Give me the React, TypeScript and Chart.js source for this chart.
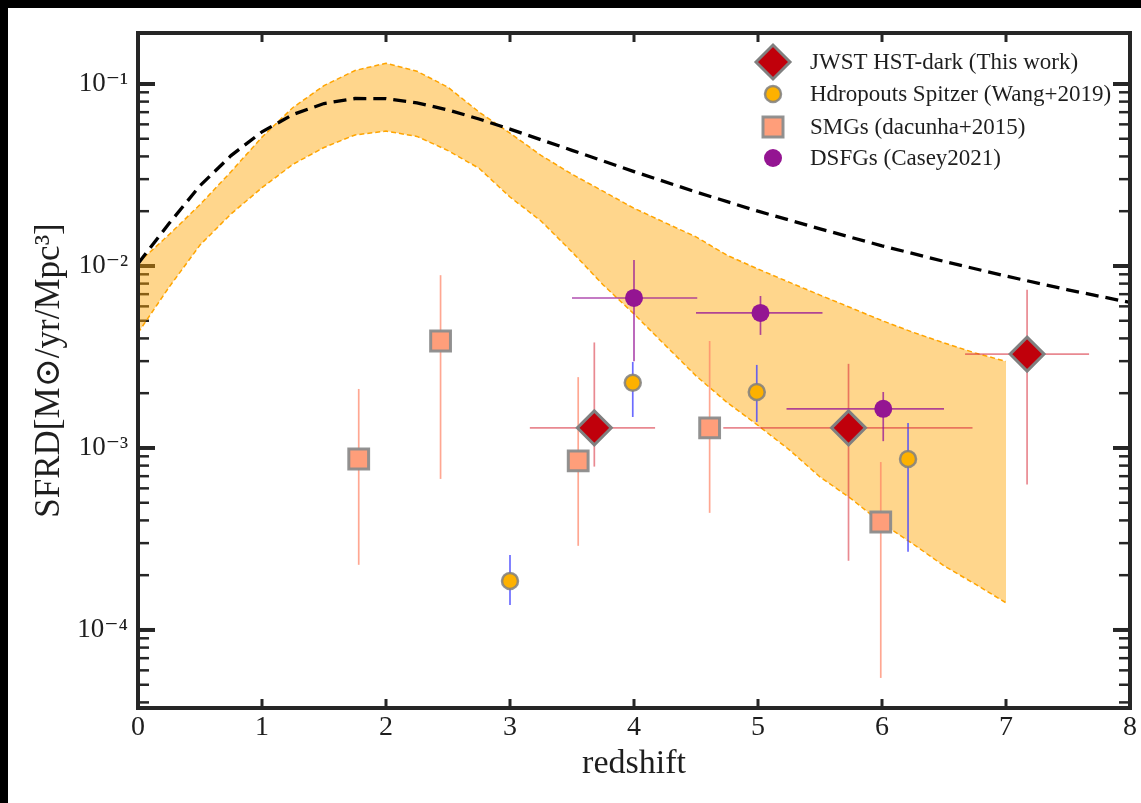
import React, { useEffect, useRef } from 'react';
import { Chart, registerables } from 'chart.js';

Chart.register(...registerables);

// ---------------- data ----------------
const xTickLabels = ['0', '1', '2', '3', '4', '5', '6', '7', '8'];
const yTickValues = [1e-4, 1e-3, 1e-2, 1e-1];
const yTickLabels = ['10⁻⁴', '10⁻³', '10⁻²', '10⁻¹'];

// dashed black curve
const mdZ = [0, 0.25, 0.5, 0.75, 1, 1.25, 1.5, 1.75, 2, 2.25, 2.5, 2.75, 3, 3.5, 4, 4.5, 5, 5.5, 6, 6.5, 7, 7.5, 8];
const mdSFRD = [0.0103, 0.0171, 0.0276, 0.0404, 0.0546, 0.068, 0.0781, 0.0832, 0.0831, 0.0788, 0.072, 0.0642, 0.0565, 0.0432, 0.033, 0.0255, 0.02, 0.016, 0.0129, 0.0106, 0.0088, 0.0074, 0.0063];

// orange band
const bandZ = [0, 0.25, 0.5, 0.75, 1, 1.25, 1.5, 1.75, 2, 2.25, 2.5, 2.75, 3, 3.25, 3.5, 3.75, 4, 4.25, 4.5, 4.75, 5, 5.25, 5.5, 5.75, 6, 6.25, 6.5, 6.75, 7];
const bandUpper = [0.01038, 0.01486, 0.02173, 0.03296, 0.05105, 0.0743, 0.09795, 0.1186, 0.13, 0.1175, 0.09594, 0.07015, 0.0537, 0.04055, 0.03192, 0.02576, 0.02075, 0.0173, 0.01445, 0.01146, 0.00962, 0.00815, 0.00692, 0.00589, 0.00501, 0.00432, 0.00378, 0.00333, 0.00299];
const bandLower = [0.00429, 0.00764, 0.01303, 0.01932, 0.02692, 0.03622, 0.04477, 0.05248, 0.05508, 0.05152, 0.04305, 0.03443, 0.02393, 0.01766, 0.01194, 0.00789, 0.00545, 0.00368, 0.00249, 0.00178, 0.00133, 0.00098, 0.000693, 0.000527, 0.000385, 0.000297, 0.000225, 0.000179, 0.000141];

// JWST HST-dark (This work)
const jwstZ = [3.68, 5.73, 7.17];
const jwstSFRD = [1.29e-3, 1.29e-3, 3.28e-3];
const jwstLo = [7.9e-4, 2.4e-4, 6.3e-4];
const jwstHi = [3.8e-3, 2.9e-3, 7.4e-3];
const jwstZLo = [3.16, 4.72, 6.67];
const jwstZHi = [4.17, 6.73, 7.67];

// Hdropouts Spitzer (Wang+2019)
const wangZ = [3.0, 3.99, 4.99, 6.21];
const wangSFRD = [1.86e-4, 2.28e-3, 2.03e-3, 8.7e-4];
const wangLo = [1.37e-4, 1.48e-3, 1.39e-3, 2.69e-4];
const wangHi = [2.58e-4, 2.97e-3, 2.86e-3, 1.37e-3];

// SMGs (dacunha+2015)
const smgZ = [1.78, 2.44, 3.55, 4.61, 5.99];
const smgSFRD = [8.7e-4, 3.87e-3, 8.5e-4, 1.29e-3, 3.92e-4];
const smgLo = [2.28e-4, 6.76e-4, 2.9e-4, 4.4e-4, 5.45e-5];
const smgHi = [2.11e-3, 8.9e-3, 2.45e-3, 3.87e-3, 8.37e-4];

// DSFGs (Casey2021)
const caseyZ = [4.0, 5.02, 6.01];
const caseySFRD = [6.67e-3, 5.52e-3, 1.64e-3];
const caseyLo = [3.0e-3, 4.18e-3, 1.09e-3];
const caseyHi = [1.08e-2, 6.84e-3, 2.03e-3];
const caseyZLo = [3.5, 4.5, 5.23];
const caseyZHi = [4.51, 5.52, 6.5];

const legendLabels = ['JWST HST-dark (This work)', 'Hdropouts Spitzer (Wang+2019)', 'SMGs (dacunha+2015)', 'DSFGs (Casey2021)'];

// ---------------- styles ----------------
const FONT = "'Liberation Serif', 'Times New Roman', 'DejaVu Serif', serif";
const TEXT = '#1e1e1e';
const AXIS = '#262626';
const JWST_FILL = '#C0000B';
const JWST_EDGE = '#808080';
const WANG_FILL = '#FDB100';
const WANG_EDGE = 'rgba(128,128,128,0.85)';
const SMG_FILL = '#FF9E7A';
const SMG_EDGE = 'rgba(140,140,140,0.95)';
const CASEY_FILL = '#941592';

const pts = (xs: number[], ys: number[]) => xs.map((x, i) => ({ x, y: ys[i] }));

export default function App() {
  const ref = useRef<HTMLCanvasElement>(null);

  useEffect(() => {
    document.body.style.background = '#000';
    const canvas = ref.current;
    if (!canvas) return;

    const errSets = [
      { z: smgZ, v: smgSFRD, lo: smgLo, hi: smgHi, zlo: null, zhi: null, color: 'rgba(255,130,100,0.7)' },
      { z: wangZ, v: wangSFRD, lo: wangLo, hi: wangHi, zlo: null, zhi: null, color: 'rgba(70,70,255,0.8)' },
      { z: jwstZ, v: jwstSFRD, lo: jwstLo, hi: jwstHi, zlo: jwstZLo, zhi: jwstZHi, color: 'rgba(215,40,55,0.55)' },
      { z: caseyZ, v: caseySFRD, lo: caseyLo, hi: caseyHi, zlo: caseyZLo, zhi: caseyZHi, color: 'rgba(150,20,150,0.75)' },
    ];

    const line = (ctx: CanvasRenderingContext2D, x1: number, y1: number, x2: number, y2: number) => {
      ctx.beginPath();
      ctx.moveTo(x1, y1);
      ctx.lineTo(x2, y2);
      ctx.stroke();
    };

    const plugin = {
      id: 'decor',
      beforeDatasetsDraw(chart: any) {
        const { ctx, chartArea: a, scales } = chart;
        const y = scales.y;
        const x = scales.x;
        ctx.save();
        ctx.strokeStyle = AXIS;
        // y major ticks
        ctx.lineWidth = 4;
        for (const v of yTickValues) {
          const py = y.getPixelForValue(v);
          line(ctx, a.left, py, a.left + 17, py);
          line(ctx, a.right - 17, py, a.right, py);
        }
        // y minor ticks
        ctx.lineWidth = 2.5;
        for (let e = -5; e <= -1; e++) {
          for (let k = 2; k <= 9; k++) {
            const v = k * Math.pow(10, e);
            if (v <= y.min || v >= y.max) continue;
            const py = y.getPixelForValue(v);
            line(ctx, a.left, py, a.left + 11, py);
            line(ctx, a.right - 11, py, a.right, py);
          }
        }
        // x ticks
        ctx.lineWidth = 3;
        for (let i = 1; i < xTickLabels.length - 1; i++) {
          const px = x.getPixelForValue(i);
          line(ctx, px, a.bottom, px, a.bottom - 9);
          line(ctx, px, a.top, px, a.top + 9);
        }
        ctx.restore();
      },
      afterDatasetDraw(chart: any, args: any) {
        if (chart.data.datasets[args.index].label !== 'curve') return;
        const { ctx, chartArea: a, scales } = chart;
        const x = scales.x;
        const y = scales.y;
        ctx.save();
        ctx.beginPath();
        ctx.rect(a.left, a.top, a.right - a.left, a.bottom - a.top);
        ctx.clip();
        ctx.lineWidth = 1.7;
        for (const s of errSets) {
          ctx.strokeStyle = s.color;
          s.z.forEach((z: number, i: number) => {
            const px = x.getPixelForValue(z);
            const py = y.getPixelForValue(s.v[i]);
            line(ctx, px, y.getPixelForValue(s.lo[i]), px, y.getPixelForValue(s.hi[i]));
            if (s.zlo && s.zhi) {
              line(ctx, x.getPixelForValue(s.zlo[i]), py, x.getPixelForValue(s.zhi[i]), py);
            }
          });
        }
        ctx.restore();
      },
      afterDraw(chart: any) {
        const { ctx, chartArea: a } = chart;
        ctx.save();
        // frame
        ctx.strokeStyle = AXIS;
        ctx.lineWidth = 4;
        ctx.strokeRect(a.left, a.top, a.right - a.left, a.bottom - a.top);
        // legend
        const mx = 765;
        const tx = 802;
        const rows = [54, 86, 119, 150];
        // diamond
        ctx.beginPath();
        ctx.moveTo(mx - 17, rows[0]);
        ctx.lineTo(mx, rows[0] - 17);
        ctx.lineTo(mx + 17, rows[0]);
        ctx.lineTo(mx, rows[0] + 17);
        ctx.closePath();
        ctx.fillStyle = JWST_FILL;
        ctx.fill();
        ctx.strokeStyle = JWST_EDGE;
        ctx.lineWidth = 3;
        ctx.stroke();
        // orange circle
        ctx.beginPath();
        ctx.arc(mx, rows[1], 8, 0, Math.PI * 2);
        ctx.fillStyle = WANG_FILL;
        ctx.fill();
        ctx.strokeStyle = WANG_EDGE;
        ctx.lineWidth = 2.5;
        ctx.stroke();
        // square
        ctx.beginPath();
        ctx.rect(mx - 10, rows[2] - 10, 20, 20);
        ctx.fillStyle = SMG_FILL;
        ctx.fill();
        ctx.strokeStyle = SMG_EDGE;
        ctx.lineWidth = 3;
        ctx.stroke();
        // purple circle
        ctx.beginPath();
        ctx.arc(mx, rows[3], 9, 0, Math.PI * 2);
        ctx.fillStyle = CASEY_FILL;
        ctx.fill();
        // texts
        ctx.fillStyle = TEXT;
        ctx.font = `23px ${FONT}`;
        ctx.textBaseline = 'middle';
        ctx.textAlign = 'left';
        legendLabels.forEach((t, i) => ctx.fillText(t, tx, rows[i] + 1));
        ctx.restore();
      },
    };

    const chart = new Chart(canvas, {
      type: 'scatter',
      data: {
        datasets: [
          {
            type: 'line',
            label: 'bandUpper',
            data: pts(bandZ, bandUpper),
            borderColor: '#FFA500',
            borderWidth: 1.5,
            borderDash: [5, 3],
            pointRadius: 0,
            fill: false,
            order: 30,
          } as any,
          {
            type: 'line',
            label: 'bandLower',
            data: pts(bandZ, bandLower),
            borderColor: '#FFA500',
            borderWidth: 1.5,
            borderDash: [5, 3],
            pointRadius: 0,
            backgroundColor: 'rgba(255,165,0,0.45)',
            fill: '-1',
            order: 29,
          } as any,
          {
            type: 'line',
            label: 'curve',
            data: pts(mdZ, mdSFRD),
            borderColor: '#000',
            borderWidth: 3.3,
            borderDash: [13, 7],
            pointRadius: 0,
            fill: false,
            order: 20,
          } as any,
          {
            label: legendLabels[3],
            data: pts(caseyZ, caseySFRD),
            pointStyle: 'circle',
            pointRadius: 9,
            backgroundColor: CASEY_FILL,
            borderWidth: 0,
            order: 4,
          },
          {
            label: legendLabels[2],
            data: pts(smgZ, smgSFRD),
            pointStyle: 'rect',
            pointRadius: 14,
            backgroundColor: SMG_FILL,
            borderColor: SMG_EDGE,
            borderWidth: 3,
            order: 3,
          },
          {
            label: legendLabels[1],
            data: pts(wangZ, wangSFRD),
            pointStyle: 'circle',
            pointRadius: 8,
            backgroundColor: WANG_FILL,
            borderColor: WANG_EDGE,
            borderWidth: 2.5,
            order: 2,
          },
          {
            label: legendLabels[0],
            data: pts(jwstZ, jwstSFRD),
            pointStyle: 'rectRot',
            pointRadius: 17,
            backgroundColor: JWST_FILL,
            borderColor: JWST_EDGE,
            borderWidth: 3,
            order: 1,
          },
        ],
      },
      options: {
        animation: false,
        responsive: false,
        devicePixelRatio: 1,
        events: [],
        layout: { autoPadding: false, padding: { top: 25, right: 11, left: 0, bottom: 0 } },
        plugins: {
          legend: { display: false },
          tooltip: { enabled: false },
        },
        scales: {
          x: {
            type: 'linear',
            min: 0,
            max: 8,
            grid: { display: false, drawTicks: false },
            border: { display: false },
            afterBuildTicks: (s: any) => {
              s.ticks = xTickLabels.map((_, i) => ({ value: i }));
            },
            afterFit: (s: any) => {
              s.height = 95;
              s.paddingLeft = 0;
              s.paddingRight = 0;
            },
            ticks: {
              padding: 3,
              color: TEXT,
              font: { family: FONT, size: 28 },
              maxRotation: 0,
              callback: (v: any) => xTickLabels[Math.round(Number(v))] ?? '',
            },
            title: {
              display: true,
              text: 'redshift',
              color: TEXT,
              font: { family: FONT, size: 34 },
              padding: { top: 0, bottom: 19 },
            },
          },
          y: {
            type: 'logarithmic',
            min: 3.726e-5,
            max: 0.1906,
            grid: { display: false, drawTicks: false },
            border: { display: false },
            afterBuildTicks: (s: any) => {
              s.ticks = yTickValues.map((v) => ({ value: v }));
            },
            afterFit: (s: any) => {
              s.width = 130;
              s.paddingTop = 0;
              s.paddingBottom = 0;
            },
            ticks: {
              padding: 10,
              color: TEXT,
              font: { family: FONT, size: 27 },
              callback: (v: any) => {
                const i = yTickValues.indexOf(Number(v));
                return i >= 0 ? yTickLabels[i] : '';
              },
            },
            title: {
              display: true,
              text: 'SFRD[M⊙/yr/Mpc³]',
              color: TEXT,
              font: { family: FONT, size: 35 },
              padding: { top: 21, bottom: 0 },
            },
          },
        },
      },
      plugins: [plugin],
    } as any);

    return () => chart.destroy();
  }, []);

  return (
    <div style={{ position: 'fixed', left: 8, top: 8, width: 1133, height: 795, background: '#fff' }}>
      <canvas ref={ref} width={1133} height={795} style={{ display: 'block' }} />
    </div>
  );
}
